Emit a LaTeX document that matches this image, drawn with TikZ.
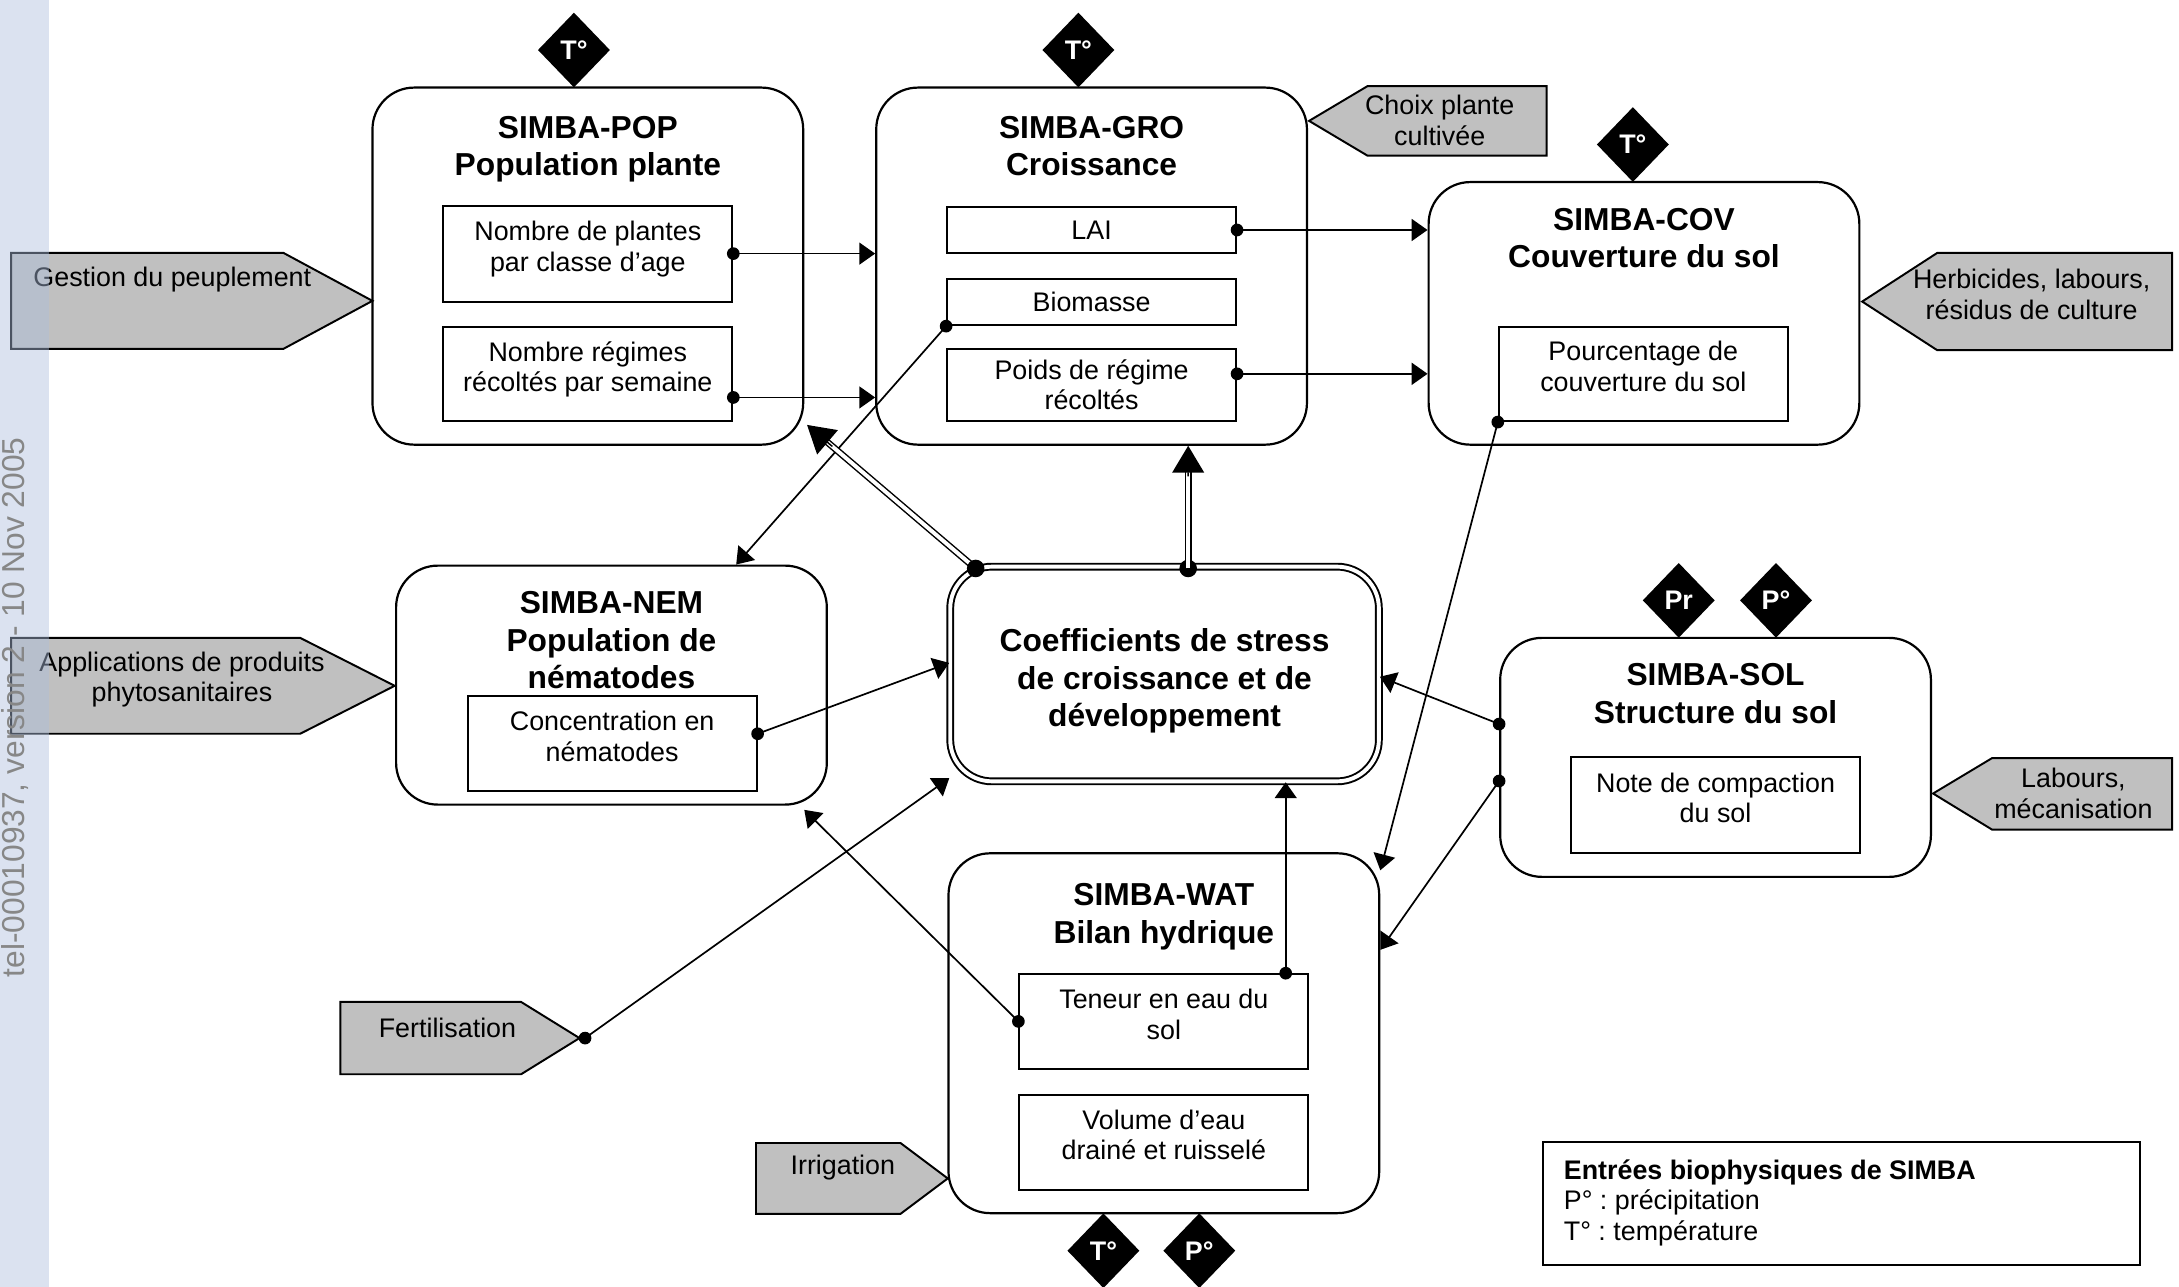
\documentclass[tikz,border=0pt]{standalone}
\usepackage{fontspec}
\setmainfont{Liberation Sans}
\usetikzlibrary{positioning}
\usetikzlibrary{calc}
\usetikzlibrary{arrows.meta}
\usetikzlibrary{shapes.geometric}
\frenchspacing

\definecolor{ingray}{RGB}{192,192,192}
\definecolor{stripblue}{RGB}{172,190,221}
\definecolor{stampgray}{RGB}{135,135,135}

\tikzset{
  module/.style={draw, line width=0.9pt, rounded corners=0.6cm, inner sep=0pt, minimum width=6.2cm},
  modtitle/.style={font=\fontsize{13}{15.4}\selectfont\bfseries, align=center, inner sep=0pt},
  varbox/.style={draw, line width=0.8pt, minimum width=4.16cm, inner sep=0pt, align=center, font=\fontsize{11}{12.5}\selectfont},
  twoline/.style={text depth=6pt},
  inshape/.style={draw, line width=0.8pt, fill=ingray},
  inlabel/.style={align=center, inner sep=0pt, font=\fontsize{11}{12.5}\selectfont},
  climate/.style={diamond, fill=black, text=white, inner sep=0pt, minimum width=1.04cm, minimum height=1.08cm, font=\fontsize{11}{12}\selectfont\bfseries},
  link/.style={line width=0.7pt, -{Triangle[length=6.5pt,width=9pt]}},
  dbllink/.style={double, line width=0.6pt, double distance=1.6pt},
  bighead/.style={line width=0.6pt, -{Triangle[length=11pt,width=13pt]}},
}

\begin{document}
\begin{tikzpicture}[x=0.02cm, y=-0.02cm]
\useasboundingbox (0,0) rectangle (1568,926);

% SIMBA-POP
\node[module, minimum height=5.14cm] (pop) at (423,191.5) {};
\node[modtitle, below=0.42cm of pop.north] (popT) {SIMBA-POP\\Population plante};
\node[varbox, twoline, minimum height=1.38cm] (popA) at (423,182.5) {Nombre de plantes\\par classe d’age};
\node[varbox, twoline, minimum height=1.36cm] (popB) at (423,269) {Nombre régimes\\récoltés par semaine};
\node[climate] (tPop) at (413,36) {T°};

% SIMBA-GRO
\node[module, minimum height=5.14cm] (gro) at (785.5,191.5) {};
\node[modtitle, below=0.42cm of gro.north] (groT) {SIMBA-GRO\\Croissance};
\node[varbox, minimum height=0.66cm] (lai) at (785.5,165.5) {LAI};
\node[varbox, minimum height=0.66cm] (bio) at (785.5,217.5) {Biomasse};
\node[varbox, minimum height=1.04cm] (poids) at (785.5,277) {Poids de régime\\récoltés};
\node[climate] (tGro) at (776,36) {T°};

% SIMBA-COV
\node[module, minimum height=3.78cm] (cov) at (1183,225.5) {};
\node[modtitle, below=0.38cm of cov.north] (covT) {SIMBA-COV\\Couverture du sol};
\node[varbox, twoline, minimum height=1.36cm] (pct) at (1182.5,269) {Pourcentage de\\couverture du sol};
\node[climate] (tCov) at (1175,104) {T°};

% SIMBA-NEM
\node[module, minimum height=3.44cm] (nem) at (440,493) {};
\node[modtitle, below=0.38cm of nem.north] (nemT) {SIMBA-NEM\\Population de\\nématodes};
\node[varbox, twoline, minimum height=1.36cm] (conc) at (440.5,535) {Concentration en\\nématodes};

% SIMBA-SOL
\node[module, minimum height=3.44cm] (sol) at (1234.5,545) {};
\node[modtitle, below=0.38cm of sol.north] (solT) {SIMBA-SOL\\Structure du sol};
\node[varbox, twoline, minimum height=1.38cm] (note) at (1234.5,579.5) {Note de compaction\\du sol};
\node[climate] (prSol) at (1208,432) {Pr};
\node[climate] (pSol) at (1278,432) {P°};

% SIMBA-WAT
\node[module, minimum height=5.18cm] (wat) at (837.5,743.5) {};
\node[modtitle, below=0.44cm of wat.north] (watT) {SIMBA-WAT\\Bilan hydrique};
\node[varbox, twoline, minimum height=1.36cm] (ten) at (837.5,735) {Teneur en eau du\\sol};
\node[varbox, twoline, minimum height=1.36cm] (vol) at (837.5,822) {Volume d’eau\\drainé et ruisselé};
\node[climate] (tWat) at (794,900) {T°};
\node[climate] (pWat) at (863,900) {P°};

% stress coefficients
\node[draw, double, line width=0.8pt, double distance=1.6pt, rounded corners=0.6cm,
      minimum width=6.17cm, minimum height=3.09cm] (coef) at (838,485) {};
\node[modtitle] (coefT) at (838,490) {Coefficients de stress\\de croissance et de\\développement};

% management inputs
\draw[inshape] (8,182) -- (204,182) -- (268,216.5) -- (204,251) -- (8,251) -- cycle;
\node[inlabel] (gest) at (124,201) {Gestion du peuplement};
\draw[inshape] (8,459) -- (216,459) -- (284,493.5) -- (216,528) -- (8,528) -- cycle;
\node[inlabel] (appl) at (131,489) {Applications de produits\\phytosanitaires};
\draw[inshape] (245,721) -- (375,721) -- (417,747) -- (375,773) -- (245,773) -- cycle;
\node[inlabel] (fert) at (322,740) {Fertilisation};
\coordinate (fertTip) at (421,747);
\draw[inshape] (544,822.5) -- (648,822.5) -- (682,848) -- (648,873.5) -- (544,873.5) -- cycle;
\node[inlabel] (irri) at (606.5,840.5) {Irrigation};
\draw[inshape] (942,87) -- (984,62) -- (1113,62) -- (1113,112) -- (984,112) -- cycle;
\node[inlabel] (choix) at (1036,86.5) {Choix plante\\cultivée};
\draw[inshape] (1340,217) -- (1394,182) -- (1563,182) -- (1563,252) -- (1394,252) -- cycle;
\node[inlabel] (herb) at (1462,212) {Herbicides, labours,\\résidus de culture};
\draw[inshape] (1391,571) -- (1433.5,545.5) -- (1563,545.5) -- (1563,597) -- (1433.5,597) -- cycle;
\node[inlabel] (lab) at (1492,571) {Labours,\\mécanisation};

% legend
\node[draw, line width=0.8pt, minimum width=8.6cm, minimum height=1.76cm] (legend) at (1325,866) {};
\node[inlabel, align=left, anchor=north west] (legT) at (1125,834)
      {\textbf{Entrées biophysiques de SIMBA}\\P° : précipitation\\T° : température};

% links
\coordinate (sPopB) at ($(popB.east)+(0,17)$);
\coordinate (sPoids) at ($(poids.east)+(0,-8)$);
\coordinate (sConc) at ($(conc.east)+(0,-7)$);
\coordinate (sSolA) at ($(sol.west)+(0,-24)$);
\coordinate (sSolB) at ($(sol.west)+(0,17)$);
\coordinate (sTen) at ($(ten.north east)+(-17,0)$);
\draw[link] (popA.east) -- (popA.east -| gro.west);
\draw[link] (sPopB) -- (sPopB -| gro.west);
\draw[link] (lai.east) -- (lai.east -| cov.west);
\draw[link] (sPoids) -- (sPoids -| cov.west);
\draw[link] (bio.south west) -- ($(nem.north east)+(-66,0)$);
\draw[link] (pct.south west) -- ($(wat.north east)+(0,13)$);
\draw[link] (sConc) -- ($(coef.west)+(0,-8)$);
\draw[link] (fertTip) -- ($(coef.south west)+(0,-3)$);
\draw[link] (sSolA) -- ($(coef.east)+(0,2)$);
\draw[link] (sSolB) -- ($(wat.east)+(0,-60)$);
\draw[link] (sTen) -- (sTen |- coef.south);
\draw[link] (ten.west) -- ($(nem.south east)+(-17,3)$);
\foreach \p in {popA.east, sPopB, lai.east, sPoids, bio.south west, pct.south west,
                sConc, fertTip, sSolA, sSolB, sTen, ten.west}
  \fill (\p) circle (2.6pt);

% stress coefficients feed back
\coordinate (sCoefA) at ($(coef.north west)+(19,2)$);
\coordinate (eCoefA) at ($(pop.south east)+(2,-15)$);
\coordinate (sCoefB) at ($(coef.north)+(17,2)$);
\coordinate (eCoefB) at (sCoefB |- gro.south);
\fill (sCoefB) circle (3.6pt);
\draw[dbllink, shorten >=8pt] (sCoefA) -- (eCoefA);
\draw[bighead] ($(sCoefA)!0.85!(eCoefA)$) -- (eCoefA);
\draw[dbllink, shorten >=8pt] (sCoefB) -- (eCoefB);
\draw[bighead] ($(sCoefB)!0.75!(eCoefB)$) -- (eCoefB);
\fill (sCoefA) circle (3.6pt);

% archive stamp
\fill[stripblue, opacity=0.44] (0,0) rectangle (35,926);
\node[rotate=90, text=stampgray, inner sep=0pt, font=\fontsize{13}{15}\selectfont] (stamp) at (11,509)
      {tel-00010937, version 2 - 10 Nov 2005};
\end{tikzpicture}
\end{document}
